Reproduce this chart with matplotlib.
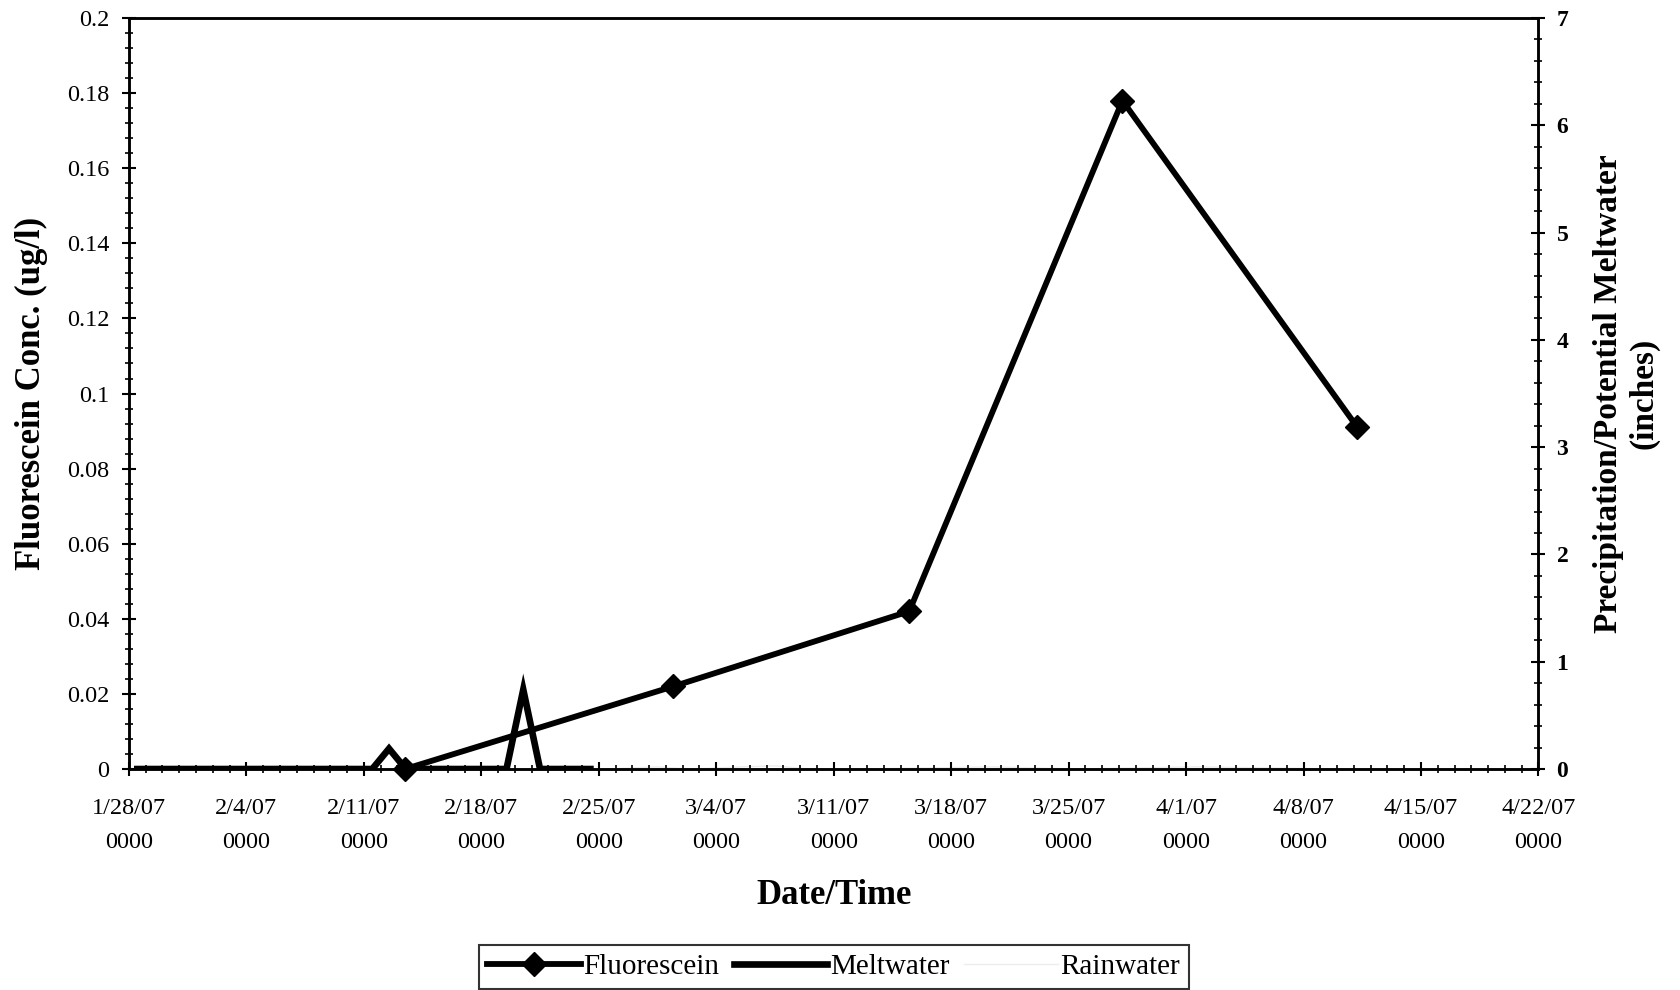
import matplotlib
matplotlib.use("Agg")
import matplotlib.pyplot as plt
import matplotlib.dates as mdates
from matplotlib.ticker import FuncFormatter, MultipleLocator, FixedLocator
import pandas as pd

plt.rcParams['font.family'] = ['Liberation Serif', 'DejaVu Serif']

# ---------------- data ----------------
fluor_dates = ["2007-02-13 11:00", "2007-03-01 10:30", "2007-03-15 12:00",
               "2007-03-28 05:00", "2007-04-11 05:00"]
fluor_vals = [0.0, 0.022, 0.042, 0.178, 0.091]

melt_dates = ["2007-01-28 12:00", "2007-01-29 12:00", "2007-01-30 12:00", "2007-01-31 12:00",
              "2007-02-01 12:00", "2007-02-02 12:00", "2007-02-03 12:00", "2007-02-04 12:00",
              "2007-02-05 12:00", "2007-02-06 12:00", "2007-02-07 12:00", "2007-02-08 12:00",
              "2007-02-09 12:00", "2007-02-10 12:00", "2007-02-11 12:00", "2007-02-12 12:00",
              "2007-02-13 12:00", "2007-02-14 12:00", "2007-02-15 12:00", "2007-02-16 12:00",
              "2007-02-17 12:00", "2007-02-18 12:00", "2007-02-19 12:00", "2007-02-20 12:00",
              "2007-02-21 12:00", "2007-02-22 12:00", "2007-02-23 12:00", "2007-02-24 12:00"]
melt_vals = [0, 0, 0, 0, 0, 0, 0, 0, 0, 0, 0, 0, 0, 0, 0, 0.19, 0, 0, 0, 0, 0, 0, 0,
             0.74, 0, 0, 0, 0]

rain_dates = ["2007-02-25 12:00", "2007-02-28 12:00", "2007-03-02 12:00", "2007-03-05 12:00",
              "2007-03-07 12:00", "2007-03-09 12:00", "2007-03-12 12:00", "2007-03-20 12:00",
              "2007-03-25 12:00", "2007-04-01 12:00", "2007-04-10 12:00", "2007-04-22 00:00"]
rain_vals = [0, 0.02, 0, 0.02, 0.03, 0, 0, 0.02, 0, 0.02, 0, 0]

x_start, x_end = "2007-01-28", "2007-04-22"
left_ticks = [0, 0.02, 0.04, 0.06, 0.08, 0.1, 0.12, 0.14, 0.16, 0.18, 0.2]
right_ticks = [0, 1, 2, 3, 4, 5, 6, 7]

# ---------------- figure ----------------
fig = plt.figure(figsize=(16.81, 9.90), dpi=100)
ax = fig.add_axes([0.0767, 0.2232, 0.8385, 0.7586])
ax2 = ax.twinx()

fd = pd.to_datetime(fluor_dates)
md = pd.to_datetime(melt_dates)
rd = pd.to_datetime(rain_dates)

ln_r, = ax2.plot(rd, rain_vals, color='#ececec', lw=1.0, label='Rainwater', zorder=1)
ln_m, = ax2.plot(md, melt_vals, color='black', lw=4.8, solid_joinstyle='miter',
                 label='Meltwater', zorder=2)
ln_f, = ax.plot(fd, fluor_vals, color='black', lw=4.2, marker='D', markersize=12.5,
                label='Fluorescein', zorder=3, clip_on=False)
ax.set_zorder(ax2.get_zorder() + 1)
ax.patch.set_visible(False)

ax.set_xlim(pd.Timestamp(x_start), pd.Timestamp(x_end))
ax.set_ylim(0, 0.2)
ax2.set_ylim(0, 7)

ax.xaxis.set_major_locator(mdates.WeekdayLocator(byweekday=mdates.SU))
ax.xaxis.set_minor_locator(mdates.DayLocator())
ax.xaxis.set_major_formatter(FuncFormatter(
    lambda v, p: (lambda d: f"{d.month}/{d.day}/{d.strftime('%y')}\n0000")(mdates.num2date(v))))

ax.yaxis.set_major_locator(FixedLocator(left_ticks))
ax.yaxis.set_minor_locator(MultipleLocator(0.004))
ax.yaxis.set_major_formatter(FuncFormatter(lambda v, p: f"{v:g}"))
ax2.yaxis.set_major_locator(FixedLocator(right_ticks))
ax2.yaxis.set_minor_locator(MultipleLocator(0.2))

for a in (ax, ax2):
    for s in a.spines.values():
        s.set_linewidth(1.8)
ax.tick_params(axis='both', which='major', direction='inout', length=10, width=1.5,
               labelsize=17.5, pad=9)
ax.tick_params(axis='both', which='minor', direction='inout', length=6, width=1.2)
ax.tick_params(axis='x', which='major', pad=16)
for t in ax.get_xticklabels():
    t.set_linespacing(1.8)
ax2.tick_params(axis='y', which='major', direction='inout', length=10, width=1.5,
                labelsize=17, pad=8)
ax2.tick_params(axis='y', which='minor', direction='inout', length=6, width=1.2)
for t in ax2.get_yticklabels():
    t.set_fontweight('bold')

ax.set_xlabel("Date/Time", fontsize=25, fontweight='bold', labelpad=19)
ax.set_ylabel("Fluorescein Conc. (ug/l)", fontsize=25, fontweight='bold', labelpad=14)
ax2.set_ylabel("Precipitation/Potential Meltwater\n(inches)", fontsize=24,
               fontweight='bold', labelpad=18, linespacing=1.15)

leg = fig.legend(handles=[ln_f, ln_m, ln_r], loc='center',
                 bbox_to_anchor=(0.496, 0.023), ncol=3, fontsize=21, frameon=True,
                 fancybox=False, edgecolor='black', handlelength=3.2, numpoints=1,
                 handletextpad=0.1, columnspacing=0.5, borderpad=0.3)
leg.get_frame().set_linewidth(1.5)

fig.savefig("out.png", dpi=100)
